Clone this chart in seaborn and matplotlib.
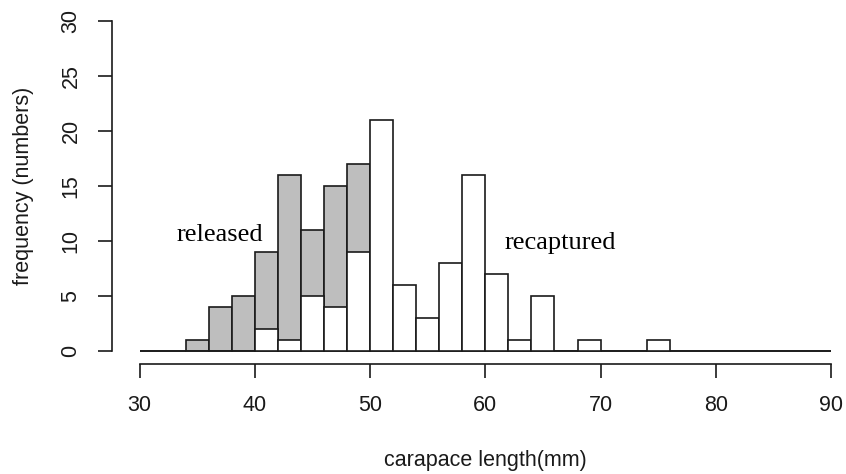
import numpy as np
import pandas as pd
import matplotlib
matplotlib.use("Agg")
import matplotlib.pyplot as plt
import seaborn as sns

# bin edges 30..90 step 2 (30 bins)
bin_edges = list(range(30, 92, 2))
bin_centers = [e + 1 for e in bin_edges[:-1]]

released = [0, 0, 1, 4, 5, 9, 16, 11, 15, 17,
             0, 0, 0, 0, 0, 0, 0, 0, 0, 0,
             0, 0, 0, 0, 0, 0, 0, 0, 0, 0]
recaptured = [0, 0, 0, 0, 0, 2, 1, 5, 4, 9,
              21, 6, 3, 8, 16, 7, 1, 5, 0, 1,
              0, 0, 1, 0, 0, 0, 0, 0, 0, 0]

x_ticks = [30, 40, 50, 60, 70, 80, 90]
y_ticks = [0, 5, 10, 15, 20, 25, 30]

df = pd.DataFrame({"length": bin_centers, "released": released, "recaptured": recaptured})

sns.set_style("white")
plt.rcParams["font.family"] = ["Liberation Sans", "DejaVu Sans"]

fig = plt.figure(figsize=(8.46, 4.74), dpi=100)
ax = fig.add_axes([112 / 846, 110 / 474, 746.7 / 846, 356.2 / 474])

sns.histplot(data=df, x="length", weights="released", bins=bin_edges, ax=ax,
             color="#BEBEBE", edgecolor="#1a1a1a", linewidth=1.2, alpha=1, fill=True)
sns.histplot(data=df, x="length", weights="recaptured", bins=bin_edges, ax=ax,
             color="white", edgecolor="#1a1a1a", linewidth=1.2, alpha=1, fill=True)

ax.set_xlim(27.6, 92.4)
ax.set_ylim(-1.2, 31.2)
ax.set_xticks(x_ticks)
ax.set_yticks(y_ticks)
ax.set_xticklabels([str(v) for v in x_ticks], fontsize=15.5)
ax.set_yticklabels([str(v) for v in y_ticks], fontsize=15.5, rotation=90, va="center")

for s in ["top", "right"]:
    ax.spines[s].set_visible(False)
ax.spines["left"].set_bounds(0, 30)
ax.spines["bottom"].set_bounds(30, 90)
for s in ["left", "bottom"]:
    ax.spines[s].set_linewidth(1.2)
    ax.spines[s].set_color("#1a1a1a")

ax.tick_params(axis="both", which="major", length=10, width=1.2, color="#1a1a1a",
               direction="out", left=True, bottom=True, labelcolor="#1a1a1a")
ax.tick_params(axis="x", pad=12)
ax.tick_params(axis="y", pad=12)

ax.set_xlabel("carapace length(mm)", fontsize=15.5, labelpad=25, color="#1a1a1a")
ax.set_ylabel("frequency (numbers)", fontsize=15.5, labelpad=19, color="#1a1a1a")

ax.text(37, 10.5, "released", fontsize=19, family=["Liberation Serif", "DejaVu Serif"],
        ha="center", va="center", color="black")
ax.text(66.5, 9.8, "recaptured", fontsize=19, family=["Liberation Serif", "DejaVu Serif"],
        ha="center", va="center", color="black")

fig.savefig("out.png", dpi=100)
